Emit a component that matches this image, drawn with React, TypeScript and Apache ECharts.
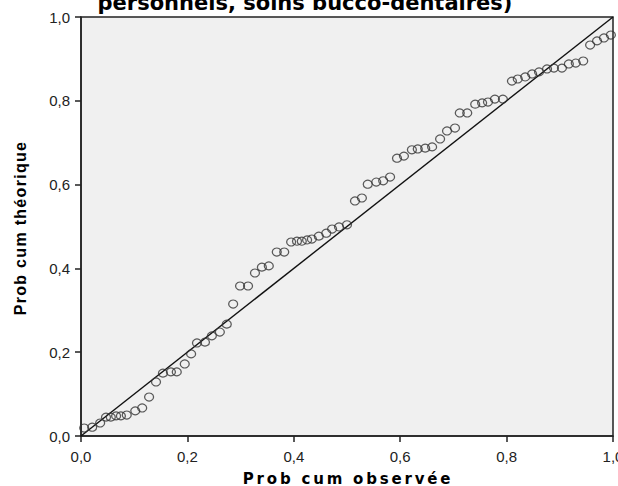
import { useEffect, useRef } from "react";
import * as echarts from "echarts";

const observed = [
  0.006, 0.021, 0.036, 0.047, 0.056, 0.066, 0.075, 0.086, 0.102, 0.115,
  0.128, 0.141, 0.154, 0.169, 0.180, 0.195, 0.207, 0.218, 0.233, 0.246,
  0.261, 0.274, 0.286, 0.299, 0.314, 0.327, 0.340, 0.353, 0.368, 0.382,
  0.395, 0.406, 0.415, 0.425, 0.434, 0.447, 0.461, 0.472, 0.485, 0.500,
  0.515, 0.528, 0.539, 0.555, 0.568, 0.581, 0.594, 0.607, 0.622, 0.633,
  0.647, 0.660, 0.675, 0.688, 0.703, 0.712, 0.726, 0.741, 0.754, 0.765,
  0.778, 0.793, 0.810, 0.821, 0.835, 0.848, 0.861, 0.876, 0.889, 0.904,
  0.917, 0.930, 0.944, 0.957, 0.970, 0.983, 0.996,
];
const expected = [
  0.019, 0.021, 0.031, 0.045, 0.045, 0.048, 0.048, 0.050, 0.060, 0.067,
  0.093, 0.129, 0.150, 0.153, 0.153, 0.172, 0.196, 0.222, 0.224, 0.239,
  0.248, 0.267, 0.315, 0.358, 0.358, 0.389, 0.403, 0.406, 0.439, 0.439,
  0.463, 0.465, 0.465, 0.468, 0.470, 0.477, 0.484, 0.494, 0.499, 0.504,
  0.561, 0.568, 0.601, 0.606, 0.609, 0.618, 0.663, 0.668, 0.683, 0.685,
  0.687, 0.690, 0.709, 0.728, 0.735, 0.771, 0.771, 0.792, 0.795, 0.797,
  0.804, 0.804, 0.847, 0.852, 0.857, 0.864, 0.869, 0.876, 0.878, 0.878,
  0.888, 0.890, 0.895, 0.933, 0.943, 0.950, 0.957,
];
const referenceLine = [
  [0, 0],
  [1, 1],
];
const titleText = "personnels, soins bucco-dentaires)";
const xName = "Prob cum observée";
const yName = "Prob cum théorique";

const fmt = (v: number) => v.toFixed(1).replace(".", ",");

export default function App() {
  const ref = useRef<HTMLDivElement>(null);
  useEffect(() => {
    const el = ref.current!;
    const chart = echarts.init(el, null, { renderer: "svg" });
    const points = observed.map((x, i) => [x, expected[i]]);
    const axisCommon = {
      type: "value",
      min: 0,
      max: 1,
      interval: 0.2,
      splitLine: { show: false },
      axisLine: { show: true, lineStyle: { color: "#222", width: 1.5 } },
      axisTick: { show: true, inside: false, length: 6, lineStyle: { color: "#222", width: 1.5 } },
    };
    chart.setOption({
      animation: false,
      backgroundColor: "#ffffff",
      grid: {
        left: 81,
        right: 5,
        top: 17,
        bottom: 50,
        outerBoundsMode: "none",
        containLabel: false,
        show: true,
        backgroundColor: "#f0f0f0",
        borderColor: "#222",
        borderWidth: 1.5,
      },
      xAxis: {
        ...axisCommon,
        axisLabel: {
          formatter: fmt,
          margin: 13,
          fontSize: 15,
          fontFamily: "Liberation Sans, Arial, sans-serif",
          color: "#222",
        },
      },
      yAxis: {
        ...axisCommon,
        axisLabel: {
          formatter: fmt,
          margin: 11,
          fontSize: 15,
          fontFamily: "Liberation Sans, Arial, sans-serif",
          color: "#222",
        },
      },
      graphic: [
        {
          type: "text",
          x: 305,
          y: 13,
          style: {
            text: titleText,
            fontSize: 21,
            fontWeight: "bold",
            fontFamily: "DejaVu Sans, sans-serif",
            fill: "#000",
            align: "center",
            verticalAlign: "bottom",
          },
        },
        {
          type: "text",
          x: 348,
          y: 486,
          style: {
            text: xName,
            fontSize: 15,
            fontWeight: "bold",
            fontFamily: "DejaVu Sans, sans-serif",
            fill: "#000",
            align: "center",
            verticalAlign: "bottom",
          },
        },
        {
          type: "text",
          x: 20,
          y: 228,
          rotation: Math.PI / 2,
          style: {
            text: yName,
            fontSize: 16,
            fontWeight: "bold",
            fontFamily: "Liberation Sans, Arial, sans-serif",
            fill: "#000",
            align: "center",
            verticalAlign: "middle",
          },
        },
      ],
      series: [
        {
          type: "line",
          data: referenceLine,
          symbol: "none",
          lineStyle: { color: "#111", width: 1.4 },
          silent: true,
          z: 2,
        },
        {
          type: "scatter",
          data: points,
          symbol: "circle",
          symbolSize: [9, 8],
          itemStyle: { color: "rgba(0,0,0,0)", borderColor: "#333", borderWidth: 1.2 },
          z: 3,
        },
      ],
    });
    const spacing: Record<string, string> = {
      [xName]: "2.8px",
      [yName]: "1.3px",
    };
    el.querySelectorAll("text").forEach((t) => {
      const s = spacing[(t.textContent || "").trim()];
      if (s) (t as SVGTextElement).style.letterSpacing = s;
    });
    return () => chart.dispose();
  }, []);
  return (
    <div
      ref={ref}
      style={{ position: "fixed", left: 0, top: 0, width: 618, height: 486 }}
    />
  );
}
